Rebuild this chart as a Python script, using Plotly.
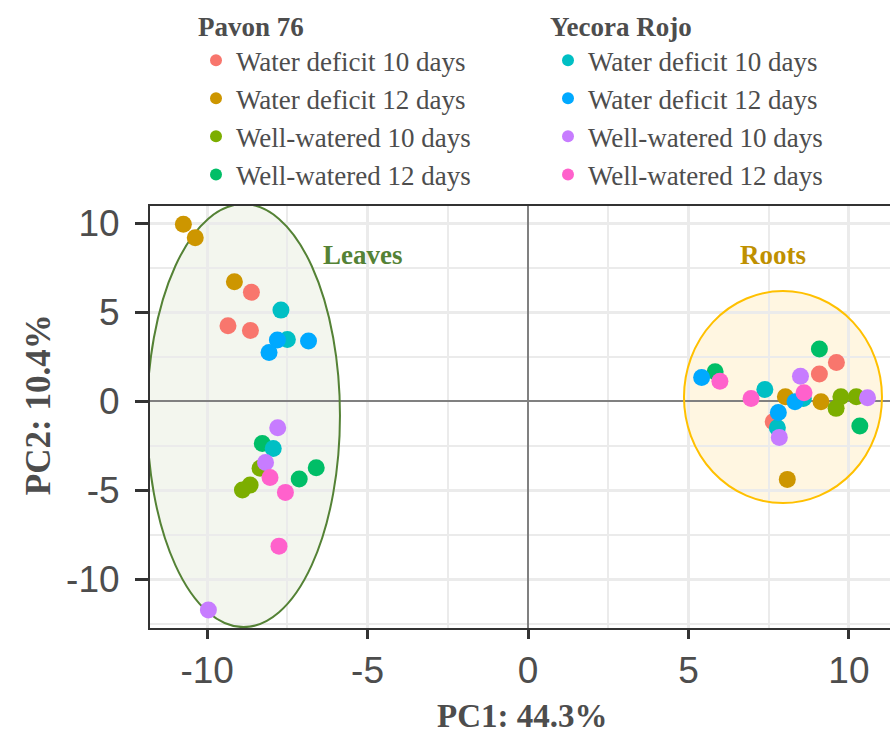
import plotly.graph_objects as go

# ---- data (PC1, PC2 scores) ----
pavon_labels = ["Water deficit 10 days", "Water deficit 12 days",
                "Well-watered 10 days", "Well-watered 12 days"]
yecora_labels = ["Water deficit 10 days", "Water deficit 12 days",
                 "Well-watered 10 days", "Well-watered 12 days"]

pavon_wd10_x = [-8.62, -9.35, -8.65, 9.61, 9.08, 7.64]
pavon_wd10_y = [6.11, 4.23, 3.97, 2.17, 1.52, -1.16]
pavon_wd12_x = [-10.74, -10.37, -9.15, 8.02, 9.13, 8.08]
pavon_wd12_y = [9.93, 9.17, 6.70, 0.24, -0.04, -4.40]
pavon_ww10_x = [-8.35, -8.66, -8.90, 9.75, 9.60, 10.23]
pavon_ww10_y = [-3.78, -4.72, -5.00, 0.24, -0.41, 0.24]
pavon_ww12_x = [-8.28, -7.13, -6.60, 5.83, 9.08, 10.34]
pavon_ww12_y = [-2.38, -4.38, -3.74, 1.65, 2.92, -1.40]

yecora_wd10_x = [-7.70, -7.50, -7.94, 7.38, 8.58, 7.77]
yecora_wd10_y = [5.11, 3.46, -2.66, 0.65, 0.15, -1.50]
yecora_wd12_x = [-7.81, -6.84, -8.07, 5.41, 7.80, 8.32]
yecora_wd12_y = [3.43, 3.37, 2.73, 1.33, -0.64, -0.04]
yecora_ww10_x = [-7.80, -8.18, -9.96, 8.49, 7.83, 10.58]
yecora_ww10_y = [-1.50, -3.45, -11.74, 1.40, -2.04, 0.19]
yecora_ww12_x = [-8.04, -7.56, -7.76, 5.98, 6.95, 8.60]
yecora_ww12_y = [-4.29, -5.13, -8.15, 1.12, 0.15, 0.47]

# ellipse extents (x0, x1, y0, y1)
leaves_ellipse = [-11.87, -5.86, -12.70, 11.07]
roots_ellipse = [4.86, 11.03, -5.73, 6.18]

x_ticks = [-10, -5, 0, 5, 10]
x_ticklabels = ["-10", "-5", "0", "5", "10"]
y_ticks = [-10, -5, 0, 5, 10]
y_ticklabels = ["-10", "-5", "0", "5", "10"]

# ---- styles ----
pavon_colors = ["#F8766D", "#CD9600", "#7CAE00", "#00BE67"]
yecora_colors = ["#00BFC4", "#00A9FF", "#C77CFF", "#FF61CC"]

pavon_series = [(pavon_wd10_x, pavon_wd10_y), (pavon_wd12_x, pavon_wd12_y),
                (pavon_ww10_x, pavon_ww10_y), (pavon_ww12_x, pavon_ww12_y)]
yecora_series = [(yecora_wd10_x, yecora_wd10_y), (yecora_wd12_x, yecora_wd12_y),
                 (yecora_ww10_x, yecora_ww10_y), (yecora_ww12_x, yecora_ww12_y)]

SERIF = "Liberation Serif, Times New Roman, serif"
SANS = "Liberation Sans, Arial, sans-serif"
TXT = "#4d4d4d"

fig = go.Figure()

for (xs, ys), name, col in zip(pavon_series, pavon_labels, pavon_colors):
    fig.add_trace(go.Scatter(x=xs, y=ys, mode="markers", name=name,
                             marker=dict(color=col, size=17, line=dict(width=0)),
                             legend="legend"))
for (xs, ys), name, col in zip(yecora_series, yecora_labels, yecora_colors):
    fig.add_trace(go.Scatter(x=xs, y=ys, mode="markers", name=name,
                             marker=dict(color=col, size=17, line=dict(width=0)),
                             legend="legend2"))

# ellipses: fill below grid, outline between grid and traces
fig.add_shape(type="circle", xref="x", yref="y",
              x0=leaves_ellipse[0], x1=leaves_ellipse[1],
              y0=leaves_ellipse[2], y1=leaves_ellipse[3],
              fillcolor="#f3f6ee", line=dict(width=0), layer="below")
fig.add_shape(type="circle", xref="x", yref="y",
              x0=roots_ellipse[0], x1=roots_ellipse[1],
              y0=roots_ellipse[2], y1=roots_ellipse[3],
              fillcolor="#fff6e1", line=dict(width=0), layer="below")
fig.add_shape(type="circle", xref="x", yref="y",
              x0=leaves_ellipse[0], x1=leaves_ellipse[1],
              y0=leaves_ellipse[2], y1=leaves_ellipse[3],
              line=dict(color="#548235", width=2), layer="between")
fig.add_shape(type="circle", xref="x", yref="y",
              x0=roots_ellipse[0], x1=roots_ellipse[1],
              y0=roots_ellipse[2], y1=roots_ellipse[3],
              line=dict(color="#FFC000", width=2), layer="between")

fig.add_annotation(x=-5.15, y=8.2, xref="x", yref="y", text="<b>Leaves</b>",
                   showarrow=False, font=dict(family=SERIF, size=27, color="#548235"))
fig.add_annotation(x=7.62, y=8.2, xref="x", yref="y", text="<b>Roots</b>",
                   showarrow=False, font=dict(family=SERIF, size=27, color="#BF9000"))

# axis titles
fig.add_annotation(x=0.503, y=0, xref="paper", yref="paper", yshift=-88,
                   text="<b>PC1: 44.3%</b>", showarrow=False,
                   xanchor="center", yanchor="middle",
                   font=dict(family=SERIF, size=33, color=TXT))
fig.add_annotation(x=0, y=0.528, xref="paper", yref="paper", xshift=-112,
                   text="<b>PC2: 10.4%</b>", showarrow=False, textangle=-90,
                   xanchor="center", yanchor="middle",
                   font=dict(family=SERIF, size=35, color=TXT))

axis_common = dict(
    showgrid=True, gridcolor="#ebebeb", gridwidth=2.5,
    minor=dict(showgrid=True, gridcolor="#ebebeb", gridwidth=1.5, dtick=2.5),
    zeroline=True, zerolinecolor="#808080", zerolinewidth=2,
    showline=True, linecolor="#333333", linewidth=2,
    ticks="outside", tickwidth=3, tickcolor="#333333",
    tickfont=dict(family=SANS, size=37, color=TXT),
    tickmode="array",
)

fig.update_xaxes(range=[-11.78, 11.28], tickvals=x_ticks, ticktext=x_ticklabels,
                 mirror=True, ticklen=9, **axis_common)
fig.update_yaxes(range=[-12.75, 10.96], tickvals=y_ticks, ticktext=y_ticklabels,
                 mirror=False, ticklen=13, ticklabelstandoff=8, **axis_common)

legend_common = dict(
    bgcolor="rgba(0,0,0,0)", borderwidth=0,
    font=dict(family=SERIF, size=27, color=TXT),
    xref="container", yref="container", xanchor="left", yanchor="top",
    itemsizing="constant", tracegroupgap=0,
)
fig.update_layout(
    width=890, height=733,
    margin=dict(l=150, r=0, t=206, b=105, autoexpand=False),
    plot_bgcolor="white", paper_bgcolor="white",
    showlegend=True,
    legend=dict(title=dict(text="<b>Pavon 76</b>", font=dict(family=SERIF, size=27, color=TXT)),
                x=196 / 890, y=1 - 1 / 733, **legend_common),
    legend2=dict(title=dict(text="<b>Yecora Rojo</b>", font=dict(family=SERIF, size=27, color=TXT)),
                 x=548 / 890, y=1 - 1 / 733, **legend_common),
)

fig.write_html("out.html")
